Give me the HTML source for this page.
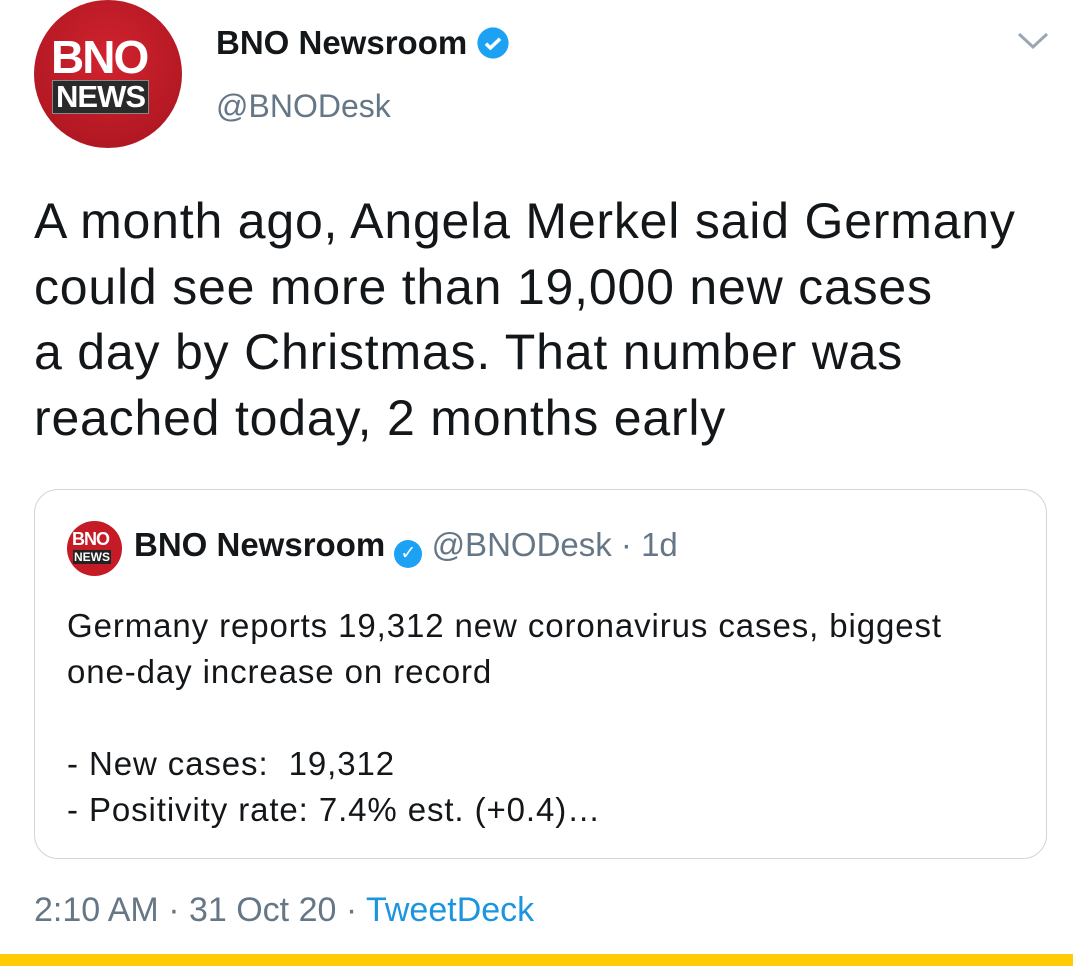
<!DOCTYPE html>
<html><head><meta charset="utf-8"><style>
body{margin:0;width:1080px;height:966px;background:#fff;position:relative;overflow:hidden;font-family:"Liberation Sans",Arial,sans-serif;color:#14171a}
.a{position:absolute;white-space:nowrap}
</style></head><body>
<div class="a" style="left:34px;top:0;width:148px;height:148px;border-radius:50%;background:radial-gradient(circle at 50% 40%,#d2232f,#a6141e)">
  <div class="a" style="left:17px;top:30px;font:bold 46px 'Liberation Sans',sans-serif;color:#fff;letter-spacing:-2px">BNO</div>
  <div class="a" style="left:18px;top:80px;background:#2a2a2a;border:1px solid #888;padding:0 3px;font:bold 31px 'Liberation Sans',sans-serif;color:#fff;line-height:32px;letter-spacing:-1px">NEWS</div>
</div>
<div class="a" style="left:216px;top:24px;font-weight:bold;font-size:33px">BNO Newsroom</div>
<svg class="a" style="left:476px;top:26px" width="34" height="34" viewBox="0 0 24 24"><circle cx="12" cy="12" r="11" fill="#1da1f2"/><path d="M7 12.5l3.2 3L17 9" stroke="#fff" stroke-width="2.5" fill="none"/></svg>
<div class="a" style="left:216px;top:88px;font-size:32px;color:#657786">@BNODesk</div>
<svg class="a" style="left:1016px;top:30px" width="34" height="22"><path d="M3 4l14 13 14-13" stroke="#9aa7b3" stroke-width="3" fill="none"/></svg>
<div class="a" style="left:34px;top:189px;font-size:50px;line-height:65.5px;letter-spacing:0.8px;white-space:normal;width:1044px">A month ago, Angela Merkel said Germany<br>could see more than 19,000 new cases<br>a day by Christmas. That number was<br>reached today, 2 months early</div>
<div class="a" style="left:34px;top:489px;width:1011px;height:368px;border:1px solid #ccd6dd;border-radius:24px">
  <div class="a" style="left:32px;top:31px;width:55px;height:55px;border-radius:50%;background:#c41b26">
    <div class="a" style="left:5px;top:8px;font:bold 18px 'Liberation Sans',sans-serif;color:#fff;letter-spacing:-1px">BNO</div>
    <div class="a" style="left:6px;top:29px;background:#222;font:bold 12px 'Liberation Sans',sans-serif;color:#fff;padding:0 1px">NEWS</div>
  </div>
  <div class="a" style="left:99px;top:36px;font-size:33px"><b>BNO Newsroom</b> <span style="display:inline-block;width:28px;height:28px;border-radius:50%;background:#1da1f2;vertical-align:-3px;color:#fff;font-size:19px;text-align:center;line-height:28px">✓</span> <span style="color:#657786">@BNODesk · 1d</span></div>
  <div class="a" style="left:32px;top:113px;font-size:33px;line-height:46px;letter-spacing:0.9px">Germany reports 19,312 new coronavirus cases, biggest<br>one-day increase on record<br><br>- New cases:&nbsp; 19,312<br>- Positivity rate: 7.4% est. (+0.4)…</div>
</div>
<div class="a" style="left:34px;top:891px;font-size:34px;color:#657786">2:10 AM · 31 Oct 20 · <span style="color:#1b95e0">TweetDeck</span></div>
<div class="a" style="left:0;top:954px;width:1073px;height:12px;background:#fecb05"></div>
</body></html>
